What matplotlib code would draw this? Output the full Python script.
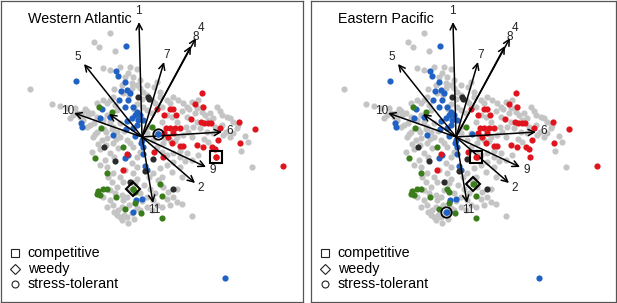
import matplotlib
matplotlib.use("Agg")
import matplotlib.pyplot as plt

plt.rcParams['font.family'] = ['Liberation Sans', 'DejaVu Sans']

# ordination scores
gray_x = [-0.32, -0.48, -0.43, -0.27, -1.12, -0.90, -0.82, -0.75, -0.67, -0.57, -0.65, -0.50, -0.59, -0.52,
          -0.45, -0.49, -0.36, -0.35, -0.40, -0.32, -0.39, -0.32, -0.17, -0.10, -0.05, -0.02, -0.10, 0.01,
          0.05, 0.10, 0.13, 0.18, 0.25, 0.28, 0.31, 0.36, 0.41, 0.45, 0.50, 0.56, 0.55, 0.60, 0.63, 0.68,
          0.71, 0.80, 0.85, 0.88, 0.91, 0.95, 0.91, 1.03, 1.06, 0.88, 0.81, 0.71, 0.65, 0.58, 0.51, 0.46,
          0.41, 0.35, 0.28, 0.21, 0.15, 0.20, 0.25, 0.31, 0.38, 0.45, 0.50, 0.31, 0.25, 0.18, 0.11, 0.16,
          0.21, 0.26, 0.31, 0.35, 0.28, 0.40, 0.50, 1.10, -0.29, -0.24, -0.32, -0.37, -0.42, -0.35, -0.29,
          -0.22, -0.19, -0.25, -0.32, -0.39, -0.32, -0.29, -0.24, -0.22, -0.15, -0.10, -0.05, -0.02, -0.25,
          -0.20, 0.05, 0.10, 0.15, 0.11, 0.05, -0.02, -0.15, -0.12, -0.19, -0.09, -0.05, -0.10, -0.05, -0.02,
          -0.09, -0.15, -0.22, -0.25, -0.29, -0.22, -0.32, -0.39, -0.45, -0.54, -0.62, -0.69, -0.72, 0.11,
          0.05, 0.15, 0.23, 0.10, 0.01, 0.05, -0.25, -0.35, -0.19, -0.29, -0.39, -0.45, -0.35, -0.27, -0.09,
          -0.14, -0.22, -0.02, 0.05, 0.12, 0.18, -0.10, -0.05, 0.02, 0.08, -0.20, -0.28, -0.18, 0.20, 0.25,
          0.35, 0.40, 0.30, 0.38, -0.47, -0.55, -0.42, -0.50, -0.30, 0.55, 0.75, 0.80, 0.62, 0.50, 0.45,
          0.35, 0.30, 0.20, 0.05, -0.05, 0.00, -0.12, -0.05, 0.15, 0.20, 0.25,
          -0.28, -0.20, -0.13, -0.30, -0.18, -0.08, -0.26, -0.12, -0.36, -0.44, -0.55, -0.60, -0.48, -0.38,
          -0.28, -0.34, -0.17, -0.07, -0.13, -0.27, -0.20, -0.14, -0.35, -0.08, 0.00, 0.07, 0.13, 0.20,
          0.40, 0.47, 0.53, 0.60, 0.66, 0.73, 0.78, 0.84, 0.44, 0.38, 0.33, 0.43, 0.56, 0.66, 0.96, 0.99]
gray_y = [1.04, 0.95, 0.90, 0.86, 0.48, 0.33, 0.31, 0.29, 0.29, 0.28, 0.24, 0.24, 0.17, 0.12, 0.05, 0.00,
          0.05, -0.01, -0.03, 0.37, 0.69, 0.67, 0.60, 0.54, 0.52, 0.49, 0.49, 0.45, 0.42, 0.37, 0.34, 0.40,
          0.37, 0.34, 0.40, 0.37, 0.34, 0.30, 0.35, 0.37, 0.29, 0.25, 0.22, 0.24, 0.19, 0.22, 0.20, 0.19,
          0.15, 0.09, 0.04, 0.01, -0.05, 0.00, 0.02, 0.04, 0.05, 0.09, 0.10, 0.05, 0.02, 0.00, -0.03, -0.06,
          -0.10, -0.15, -0.18, -0.16, -0.20, -0.16, -0.23, -0.25, -0.28, -0.31, -0.36, -0.43, -0.50, -0.55,
          -0.60, -0.65, -0.68, -0.67, -0.79, -0.30, -0.06, -0.11, -0.16, -0.23, -0.28, -0.30, -0.36, -0.40,
          -0.45, -0.50, -0.53, -0.60, -0.63, -0.68, -0.73, -0.80, -0.80, -0.76, -0.71, -0.73, -0.78, -0.83,
          -0.70, -0.73, -0.68, -0.63, -0.60, -0.56, -0.60, -0.53, -0.63, -0.36, -0.30, -0.26, -0.20, -0.15,
          -0.10, -0.03, 0.00, 0.05, 0.10, 0.14, 0.15, 0.17, 0.20, 0.22, 0.20, 0.22, 0.19, -0.03, 0.04, 0.04,
          -0.01, 0.24, 0.30, 0.27, 0.27, 0.22, 0.44, 0.40, 0.37, 0.34, 0.34, 0.32, 0.60, 0.64, 0.70, 0.57,
          0.52, 0.50, 0.45, -0.45, -0.42, -0.48, -0.52, -0.70, -0.75, -0.78, -0.70, -0.62, -0.52, -0.40,
          -0.35, -0.30, 0.03, 0.10, -0.12, -0.15, -0.45, 0.15, 0.30, 0.12, -0.02, 0.00, 0.20, 0.15, 0.20,
          0.15, 0.10, 0.33, 0.38, 0.70, 0.68, 0.55, 0.30, 0.22,
          0.48, 0.52, 0.42, 0.08, 0.06, 0.28, -0.02, -0.06, -0.08, -0.07, 0.26, 0.24, 0.14, 0.08,
          -0.20, -0.40, -0.33, -0.46, -0.68, -0.56, -0.58, -0.86, -0.70, -0.82, -0.64, -0.40, -0.56, -0.40,
          0.26, 0.28, 0.24, 0.30, 0.17, 0.10, 0.26, 0.05, 0.10, -0.14, -0.04, -0.24, -0.18, -0.05, 0.12, -0.14]

red_x = [0.60, 0.53, 0.61, 0.15, 0.28, 0.31, 0.22, 0.34, 0.49, 0.59, 0.62, 0.66, 0.69, 0.97, 1.13, 0.78,
         0.24, 0.28, 0.33, 0.38, 0.22, 0.31, 0.26, 0.30, 0.38, 0.41, 0.55, 0.61, 0.70, 0.73, 0.76, 0.98,
         0.74, 0.21, 0.12, -0.15, -0.19, 1.41]
red_y = [0.44, 0.33, 0.30, 0.28, 0.28, 0.28, 0.22, 0.22, 0.18, 0.15, 0.14, 0.14, 0.14, 0.15, 0.08, 0.09,
         0.09, 0.09, 0.09, 0.09, 0.04, 0.04, 0.00, -0.06, -0.09, -0.09, -0.08, -0.10, -0.10, -0.12, -0.03,
         -0.06, -0.20, -0.20, -0.15, -0.17, -0.33, -0.29]

blue_x = [-0.16, -0.66, -0.26, -0.24, -0.17, -0.15, -0.21, -0.12, -0.23, -0.14, -0.09, -0.17, -0.40, -0.42,
          -0.32, -0.05, -0.07, -0.02, -0.10, -0.04, -0.15, 0.01, -0.05, -0.09, -0.16, -0.61, -0.60, -0.29,
          -0.07, 0.00, -0.01, 0.01, -0.14, -0.17, 0.01, 0.03, 0.05, -0.06, 0.00, -0.09, 0.16, 0.83]
blue_y = [0.91, 0.56, 0.66, 0.61, 0.55, 0.47, 0.46, 0.44, 0.37, 0.37, 0.30, 0.30, 0.28, 0.19, 0.20, 0.25,
          0.22, 0.22, 0.19, 0.17, 0.16, 0.17, 0.12, 0.09, 0.08, 0.14, 0.10, 0.02, 0.01, -0.03, -0.06, -0.10,
          -0.18, -0.21, -0.17, -0.29, -0.33, -0.63, -0.62, -0.75, 0.03, -1.41]

green_x = [-0.43, -0.30, -0.41, 0.10, -0.19, -0.47, -0.35, -0.44, -0.39, -0.35, -0.45, -0.42, -0.26, -0.09,
           -0.07, 0.18, 0.20, -0.07, -0.17, -0.01, 0.20]
green_y = [0.30, 0.25, 0.09, 0.10, -0.10, -0.21, -0.36, -0.54, -0.52, -0.52, -0.57, -0.58, -0.60, -0.52,
           -0.55, -0.47, -0.59, -0.66, -0.72, -0.76, -0.81]

black_x = [0.06, 0.07, -0.04, -0.38, -0.27, 0.11, 0.03, 0.31, -0.12]
black_y = [0.40, 0.38, 0.40, -0.10, -0.24, -0.22, -0.34, -0.52, -0.45]

# environmental vectors
vec_labels = ['1', '4', '8', '7', '5', '10', '', '6', '9', '2', '11']
vec_x = [-0.03, 0.54, 0.49, 0.22, -0.58, -0.68, -0.33, 0.80, 0.64, 0.53, 0.11]
vec_y = [1.15, 0.99, 0.91, 0.75, 0.73, 0.24, 0.23, 0.05, -0.30, -0.46, -0.66]

panels = ['Western Atlantic', 'Eastern Pacific']
# competitive, weedy, stress-tolerant centroids per panel
comp_xy = [(0.74, -0.20), (0.20, -0.20)]
weedy_xy = [(-0.09, -0.52), (0.17, -0.47)]
stress_xy = [(0.16, 0.03), (-0.10, -0.75)]
comp_col = ['#e0141c', '#e0141c']
weedy_col = ['#3a7d1a', '#3a7d1a']
stress_col = ['#1f62c4', '#1f62c4']

W, H = 617, 303
fig = plt.figure(figsize=(W / 100, H / 100), dpi=100)
boxes = [(1, 302, -1.41, 1.61), (311, 305, -1.45, 1.60)]
dot = 20

for i, name in enumerate(panels):
    left, width, x0, x1 = boxes[i]
    ax = fig.add_axes([left / W, 1 / H, width / W, 301 / H])
    ax.set_xlim(x0, x1)
    ax.set_ylim(-1.65, 1.36)
    ax.set_xticks([])
    ax.set_yticks([])
    for s in ax.spines.values():
        s.set_color('#555555')
        s.set_linewidth(0.9)

    ax.scatter(gray_x, gray_y, s=dot, c='#c4c4c4', linewidths=0, zorder=1)
    ax.scatter(blue_x, blue_y, s=dot, c='#1f62c4', linewidths=0, zorder=2)
    ax.scatter(red_x, red_y, s=dot, c='#e0141c', linewidths=0, zorder=2)
    ax.scatter(green_x, green_y, s=dot, c='#3a7d1a', linewidths=0, zorder=2)
    ax.scatter(black_x, black_y, s=dot, c='#2b2b2b', linewidths=0, zorder=2)

    for lab, vx, vy in zip(vec_labels, vec_x, vec_y):
        ax.annotate('', xy=(vx, vy), xytext=(0, 0),
                    arrowprops=dict(arrowstyle='->', lw=1.1, color='black',
                                    shrinkA=0, shrinkB=0, mutation_scale=11), zorder=3)
        if lab:
            ax.text(vx * 1.1, vy * 1.1, lab, fontsize=8.5, ha='center', va='center',
                    color='#222222', zorder=4)

    ax.plot(*comp_xy[i], marker='s', ms=8, mfc='none', mec='black', mew=1.5, zorder=5)
    ax.plot(*weedy_xy[i], marker='D', ms=7.5, mfc='none', mec='black', mew=1.5, zorder=5)
    ax.plot(*stress_xy[i], marker='o', ms=7.5, mfc='none', mec='black', mew=1.3, zorder=5)
    ax.scatter(*comp_xy[i], s=dot, c=comp_col[i], linewidths=0, zorder=5)
    ax.scatter(*weedy_xy[i], s=dot, c=weedy_col[i], linewidths=0, zorder=5)
    ax.scatter(*stress_xy[i], s=dot, c=stress_col[i], linewidths=0, zorder=5)

    ax.text(0.088, 0.94, name, transform=ax.transAxes, fontsize=10.3, ha='left', va='center')

    # legend
    rows = [('s', 5.5, 'competitive', 0.163), ('D', 5.5, 'weedy', 0.108), ('o', 5, 'stress-tolerant', 0.060)]
    for mk, ms, txt, yy in rows:
        ax.plot(0.045, yy, marker=mk, ms=ms, mfc='none', mec='#222222', mew=0.8,
                transform=ax.transAxes, clip_on=False)
        ax.text(0.088, yy, txt, transform=ax.transAxes, fontsize=10.3, ha='left', va='center')

fig.savefig('out.png', dpi=100)
